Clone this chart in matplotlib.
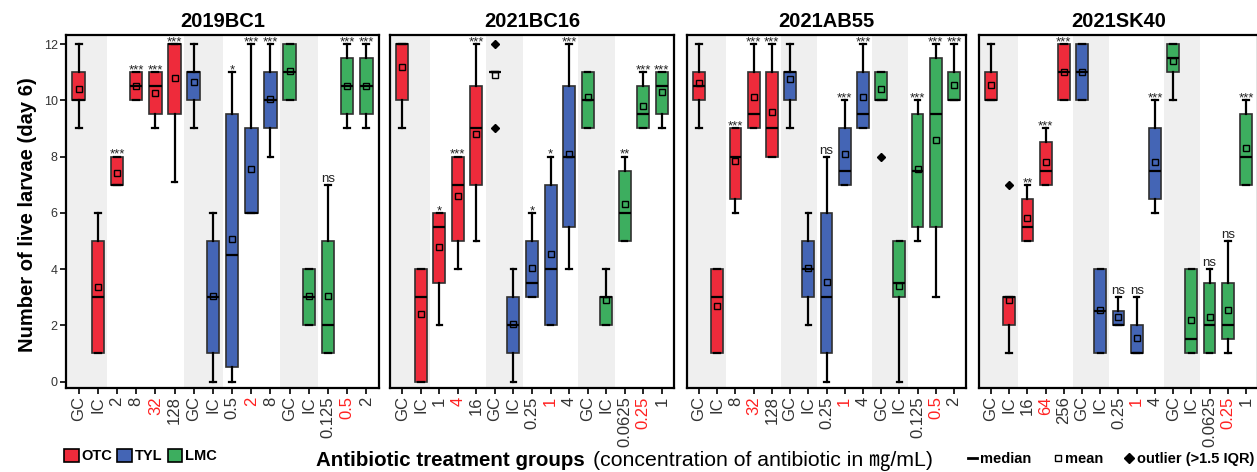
import numpy as np
import matplotlib.pyplot as plt
from matplotlib.patches import Patch
from matplotlib.lines import Line2D

plt.rcParams['font.family'] = ['Liberation Sans', 'Noto Sans CJK JP', 'DejaVu Sans']

# ---------- DATA ----------
TITLES = ["2019BC1", "2021BC16", "2021AB55", "2021SK40"]

LABELS = [
    ["GC", "IC", "2", "8", "32", "128", "GC", "IC", "0.5", "2", "8", "GC", "IC", "0.125", "0.5", "2"],
    ["GC", "IC", "1", "4", "16", "GC", "IC", "0.25", "1", "4", "GC", "IC", "0.0625", "0.25", "1"],
    ["GC", "IC", "8", "32", "128", "GC", "IC", "0.25", "1", "4", "GC", "IC", "0.125", "0.5", "2"],
    ["GC", "IC", "16", "64", "256", "GC", "IC", "0.25", "1", "4", "GC", "IC", "0.0625", "0.25", "1"],
]
# number of boxes per antibiotic (OTC, TYL, LMC) in each panel
GROUP_SIZES = [(6, 5, 5), (5, 5, 5), (5, 5, 5), (5, 5, 5)]
# tick labels printed in red
RED_TICKS = [[4, 9, 14], [3, 8, 13], [3, 8, 13], [3, 8, 13]]

Q1 = [
    [10, 1, 7, 10, 9.5, 9.5, 10, 1, 0.5, 6, 9, 10, 2, 1, 9.5, 9.5],
    [10, 0, 3.5, 5, 7, 11, 1, 3, 2, 5.5, 9, 2, 5, 9, 9.5],
    [10, 1, 6.5, 9, 8, 10, 3, 1, 7, 9, 10, 3, 5.5, 5.5, 10],
    [10, 2, 5, 7, 10, 10, 1, 2, 1, 6.5, 11, 1, 1, 1.5, 7],
]
MED = [
    [10, 3, 7, 10.5, 10.5, 12, 11, 3, 4.5, 6, 10, 11, 3, 2, 10.5, 10.5],
    [12, 3, 5.5, 7, 9, 11, 2, 3.5, 4, 8, 10, 3, 6, 9.5, 10.5],
    [10.5, 3, 8, 9.5, 9, 11, 4, 3, 7.5, 9.5, 10, 3.5, 7.5, 9.5, 10],
    [10, 3, 5.5, 7.5, 11, 11, 2.5, 2, 1, 7.5, 11.5, 1.5, 2, 2, 8],
]
Q3 = [
    [11, 5, 8, 11, 11, 12, 11, 5, 9.5, 9, 11, 12, 4, 5, 11.5, 11.5],
    [12, 4, 6, 8, 10.5, 11, 3, 5, 7, 10.5, 11, 3, 7.5, 10.5, 11],
    [11, 4, 9, 11, 11, 11, 5, 6, 9, 11, 11, 5, 9.5, 11.5, 11],
    [11, 3, 6.5, 8.5, 12, 12, 4, 2.5, 2, 9, 12, 4, 3.5, 3.5, 9.5],
]
LO = [
    [9, 1, 7, 10, 9, 7.1, 9, 0, 0, 6, 8, 10, 2, 1, 9, 9],
    [9, 0, 2, 4, 5, 11, 0, 3, 2, 4, 9, 2, 5, 9, 9],
    [9, 1, 6, 9, 8, 9, 2, 0, 7, 9, 10, 0, 5, 3, 10],
    [10, 1, 5, 7, 10, 10, 1, 2, 1, 6, 10, 1, 1, 1, 7],
]
HI = [
    [12, 6, 8, 11, 11, 12, 12, 6, 11, 12, 12, 12, 4, 7, 12, 12],
    [12, 4, 6, 8, 12, 11, 4, 6, 8, 12, 11, 4, 8, 11, 11],
    [12, 4, 9, 12, 12, 12, 6, 8, 10, 12, 11, 5, 10, 12, 12],
    [12, 3, 7, 9, 12, 12, 4, 3, 3, 10, 12, 4, 4, 5, 10],
]
MEAN = [
    [10.4, 3.35, 7.4, 10.5, 10.25, 10.8, 10.65, 3.05, 5.05, 7.55, 10.05, 11.05, 3.05, 3.05, 10.5, 10.5],
    [11.2, 2.4, 4.8, 6.6, 8.8, 10.9, 2.05, 4.05, 4.55, 8.1, 10.1, 2.9, 6.3, 9.8, 10.3],
    [10.6, 2.7, 7.85, 10.1, 9.6, 10.75, 4.05, 3.55, 8.1, 10.1, 10.4, 3.4, 7.55, 8.6, 10.55],
    [10.55, 2.9, 5.8, 7.8, 11.0, 11.0, 2.55, 2.3, 1.55, 7.8, 11.4, 2.2, 2.3, 2.55, 8.3],
]
OUTLIERS = [{}, {5: [12, 9]}, {10: [8]}, {1: [7]}]
SIG = [
    ["", "", "***", "***", "***", "***", "", "", "*", "***", "***", "", "", "ns", "***", "***"],
    ["", "", "*", "***", "***", "", "", "*", "*", "***", "", "", "**", "***", "***"],
    ["", "", "***", "***", "***", "", "", "ns", "***", "***", "", "", "***", "***", "***"],
    ["", "", "**", "***", "***", "", "", "ns", "ns", "***", "", "", "ns", "ns", "***"],
]

ANTIBIOTICS = ["OTC", "TYL", "LMC"]
COLORS = {"OTC": "#EE2B3B", "TYL": "#4465B5", "LMC": "#3DAE5F"}

# ---------- LAYOUT (pixels) ----------
W, H = 1257, 472
AX_PX = [(66, 379), (390, 674), (687, 966), (979, 1258)]
AX_TOP, AX_BOT = 35, 388
PAD = 0.66

fig = plt.figure(figsize=(W / 100, H / 100), dpi=100)

for p in range(4):
    x0, x1 = AX_PX[p]
    ax = fig.add_axes([x0 / W, 1 - AX_BOT / H, (x1 - x0) / W, (AX_BOT - AX_TOP) / H])
    n = len(LABELS[p])
    ax.set_xlim(-PAD, n - 1 + PAD)
    ax.set_ylim(-0.23, 12.32)

    # grey background behind the GC / IC pairs
    for i, lab in enumerate(LABELS[p]):
        if lab == "GC":
            ax.axvspan(-PAD if i == 0 else i - 0.5, i + 1.5, color="#EFEFEF", lw=0, zorder=0)

    groups = []
    for g, k in zip(ANTIBIOTICS, GROUP_SIZES[p]):
        groups += [g] * k

    stats = []
    for i in range(n):
        stats.append(dict(q1=Q1[p][i], med=MED[p][i], q3=Q3[p][i],
                          whislo=LO[p][i], whishi=HI[p][i], mean=MEAN[p][i],
                          fliers=OUTLIERS[p].get(i, [])))

    bp = ax.bxp(stats, positions=list(range(n)), widths=0.65, capwidths=0.3,
                patch_artist=True, showmeans=True, manage_ticks=False,
                boxprops=dict(edgecolor="#303030", linewidth=1.2),
                whiskerprops=dict(color="black", linewidth=1.6),
                capprops=dict(color="black", linewidth=1.6),
                medianprops=dict(color="black", linewidth=1.6),
                meanprops=dict(marker="s", markersize=4.5, markerfacecolor="none",
                               markeredgecolor="black", markeredgewidth=1.0),
                flierprops=dict(marker="D", markersize=3.8, markerfacecolor="black",
                                markeredgecolor="black"))
    for i in range(n):
        bp["boxes"][i].set_facecolor(COLORS[groups[i]])

    # significance marks
    for i, s in enumerate(SIG[p]):
        if s:
            top = max(HI[p][i], Q3[p][i])
            off = 0.1 if s == "ns" else -0.05
            ax.text(i, top + off, s, ha="center", va="baseline", fontsize=9.5,
                    color="#222222", clip_on=False, zorder=6)

    ax.set_title(TITLES[p], fontsize=14.5, fontweight="bold", pad=6)

    ax.set_xticks(range(n))
    ax.set_xticklabels(LABELS[p], rotation=90, fontsize=12, color="#333333")
    for i in RED_TICKS[p]:
        ax.get_xticklabels()[i].set_color("#FF2020")
    ax.tick_params(axis="x", length=4, width=1.2, pad=2)

    if p == 0:
        ax.set_yticks([0, 2, 4, 6, 8, 10, 12])
        ax.tick_params(axis="y", length=4, width=1.2, pad=2, labelsize=9, labelcolor="#333333")
    else:
        ax.tick_params(axis="y", left=False, labelleft=False)

    for sp in ax.spines.values():
        sp.set_linewidth(1.6)
        sp.set_color("black")

# axis titles
fig.text(28 / W, 0.545, "Number of live larvae (day 6)", rotation=90, fontsize=14.5,
         fontweight="bold", ha="center", va="center")

t1 = fig.text(316 / W, 1 - 466 / H, "Antibiotic treatment groups", fontsize=14.8,
              fontweight="bold", ha="left", va="baseline")
fig.canvas.draw()
bb = t1.get_window_extent(renderer=fig.canvas.get_renderer())
fig.text((bb.x1 + 8) / W, 1 - 466 / H, "(concentration of antibiotic in \u338e/mL)",
         fontsize=15.3, ha="left", va="baseline")

# legends
drug_handles = [Patch(facecolor=COLORS[g], edgecolor="black", linewidth=1.2) for g in ANTIBIOTICS]
fig.legend(drug_handles, ANTIBIOTICS, loc="center left", bbox_to_anchor=(64 / W, 1 - 456 / H),
           ncol=3, frameon=False, handlelength=1.0, handleheight=1.0, handletextpad=0.2,
           columnspacing=0.35, borderpad=0, borderaxespad=0,
           prop=dict(weight="bold", size=10.5))

key_handles = [Line2D([0], [0], color="black", lw=2),
               Line2D([0], [0], ls="", marker="s", markersize=5, markerfacecolor="white",
                      markeredgecolor="black", markeredgewidth=1.0),
               Line2D([0], [0], ls="", marker="D", markersize=5, markerfacecolor="black",
                      markeredgecolor="black")]
fig.legend(key_handles, ["median", "mean", "outlier (>1.5 IQR)"], loc="center right",
           bbox_to_anchor=(1254 / W, 1 - 459 / H), ncol=3, frameon=False,
           handlelength=0.6, handletextpad=0.2, columnspacing=1.5, borderpad=0,
           borderaxespad=0, prop=dict(weight="bold", size=10.5))

fig.savefig("out.png", dpi=100)
